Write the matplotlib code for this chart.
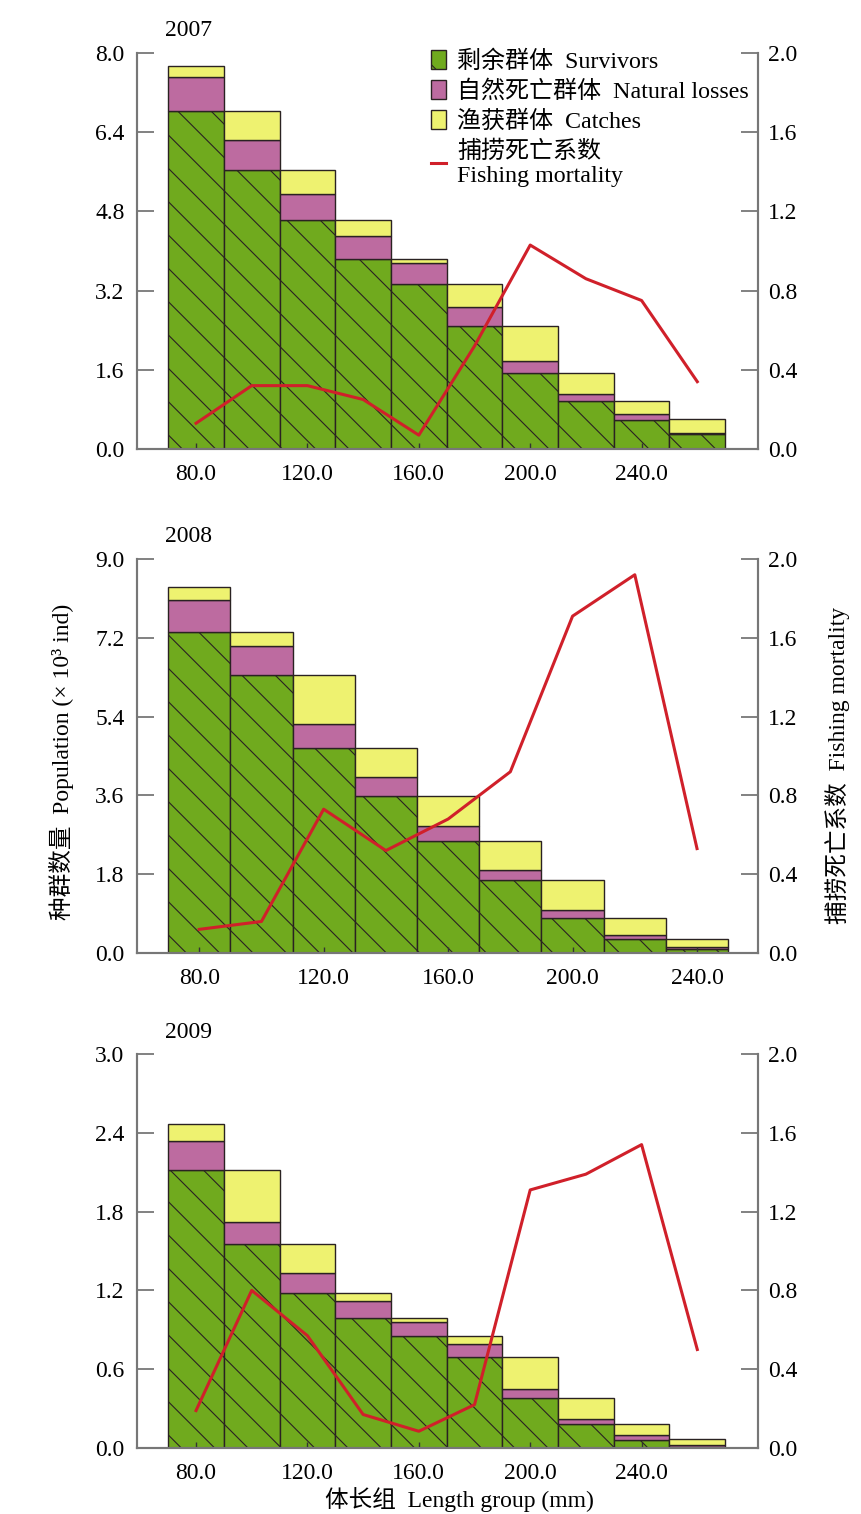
import numpy as np
import matplotlib
matplotlib.use('Agg')
import matplotlib.pyplot as plt
from matplotlib.font_manager import FontProperties

plt.rcParams['font.family'] = ['Liberation Serif', 'Noto Sans CJK SC']
plt.rcParams['hatch.linewidth'] = 0.8
plt.rcParams['hatch.color'] = '#1a1a1a'

# ---- data ----
years = ['2007', '2008', '2009']

len_2007 = [80, 100, 120, 140, 160, 180, 200, 220, 240, 260]
surv_2007 = [6.82, 5.64, 4.62, 3.83, 3.33, 2.49, 1.54, 0.97, 0.59, 0.30]
nat_2007 = [0.69, 0.61, 0.53, 0.48, 0.42, 0.38, 0.23, 0.15, 0.12, 0.02]
catch_2007 = [0.23, 0.57, 0.49, 0.31, 0.08, 0.46, 0.72, 0.42, 0.26, 0.28]
F_2007 = [0.13, 0.32, 0.32, 0.25, 0.07, 0.52, 1.03, 0.86, 0.75, 0.34]

len_2008 = [80, 100, 120, 140, 160, 180, 200, 220, 240]
surv_2008 = [7.33, 6.34, 4.68, 3.58, 2.56, 1.66, 0.80, 0.31, 0.10]
nat_2008 = [0.74, 0.68, 0.54, 0.44, 0.35, 0.24, 0.19, 0.09, 0.03]
catch_2008 = [0.29, 0.31, 1.12, 0.66, 0.67, 0.66, 0.67, 0.40, 0.20]
F_2008 = [0.12, 0.16, 0.73, 0.52, 0.68, 0.92, 1.71, 1.92, 0.53]

len_2009 = [80, 100, 120, 140, 160, 180, 200, 220, 240, 260]
surv_2009 = [2.12, 1.55, 1.18, 0.99, 0.85, 0.69, 0.38, 0.18, 0.06, 0.01]
nat_2009 = [0.22, 0.17, 0.15, 0.13, 0.11, 0.10, 0.07, 0.04, 0.04, 0.01]
catch_2009 = [0.13, 0.40, 0.22, 0.06, 0.03, 0.06, 0.24, 0.16, 0.08, 0.05]
F_2009 = [0.19, 0.80, 0.57, 0.17, 0.085, 0.22, 1.31, 1.39, 1.54, 0.50]

yticks_left = [np.arange(0, 8.01, 1.6), np.arange(0, 9.01, 1.8), np.arange(0, 3.01, 0.6)]
yticks_right = np.arange(0, 2.01, 0.4)
xticks = [80, 120, 160, 200, 240]

labels = ['剩余群体  Survivors', '自然死亡群体  Natural losses',
          '渔获群体  Catches', '捕捞死亡系数\nFishing mortality']

# ---- style ----
green = '#70aa1e'
pink = '#bd6ba0'
yellow = '#eef270'
red = '#d0202a'
edge = '#2a2222'
spine_c = '#777777'
fs = 17

W, H = 861, 1514
fig = plt.figure(figsize=(W / 100, H / 100), dpi=100)

# axes boxes in pixels: (top, bottom)
boxes = [(53, 449), (559, 953), (1054, 1448)]
left_px, right_px = 137, 758
xlims = [(58.8, 281.8), (60, 259.6), (58.8, 281.8)]

datasets = [
    (len_2007, surv_2007, nat_2007, catch_2007, F_2007),
    (len_2008, surv_2008, nat_2008, catch_2008, F_2008),
    (len_2009, surv_2009, nat_2009, catch_2009, F_2009),
]

for k, (top, bot) in enumerate(boxes):
    ax = fig.add_axes([left_px / W, 1 - bot / H, (right_px - left_px) / W, (bot - top) / H])
    x, surv, nat, catch, F = datasets[k]
    x = np.array(x)
    surv = np.array(surv)
    nat = np.array(nat)
    catch = np.array(catch)

    b1 = ax.bar(x, surv, width=20, color=green, edgecolor=edge, linewidth=1.0, hatch='\\')
    b2 = ax.bar(x, nat, width=20, bottom=surv, color=pink, edgecolor=edge, linewidth=1.0)
    b3 = ax.bar(x, catch, width=20, bottom=surv + nat, color=yellow, edgecolor=edge, linewidth=1.0)

    ax.set_xlim(*xlims[k])
    ax.set_ylim(0, yticks_left[k][-1])
    ax.set_yticks(yticks_left[k])
    ax.set_yticklabels(['%.1f' % v for v in yticks_left[k]])
    ax.set_xticks(xticks)
    ax.set_xticklabels(['%.1f' % v for v in xticks])
    ax.tick_params(axis='y', direction='in', length=12, width=1.3, color=spine_c,
                   pad=9, labelsize=fs)
    ax.tick_params(axis='x', direction='in', length=4, width=1.0, color='#333333',
                   pad=11, labelsize=fs)

    ax2 = ax.twinx()
    ln, = ax2.plot(x, F, color=red, linewidth=2.2)
    ax2.set_ylim(0, 2.0)
    ax2.set_yticks(yticks_right)
    ax2.set_yticklabels(['%.1f' % v for v in yticks_right])
    ax2.tick_params(axis='y', direction='in', length=12, width=1.3, color=spine_c,
                    pad=7, labelsize=fs)

    for a in (ax, ax2):
        a.spines['top'].set_visible(False)
        for s in ('left', 'right', 'bottom'):
            a.spines[s].set_color(spine_c)
            a.spines[s].set_linewidth(1.5)

    fig.text(165 / W, 1 - (top - 22) / H, years[k], fontsize=fs, ha='left', va='center')

    if k == 0:
        leg = ax2.legend([b1[0], b2[0], b3[0], ln], labels, loc='upper left',
                         bbox_to_anchor=(0.473, 1.008), frameon=False,
                         prop=FontProperties(family=['Liberation Serif', 'Noto Sans CJK SC'], size=17.3),
                         borderpad=0, borderaxespad=0, handlelength=0.65, handleheight=0.85,
                         handletextpad=0.45, labelspacing=0.3)

fig.text(62 / W, 1 - 762 / H, '种群数量  Population (× 10³ ind)', rotation=90,
         fontsize=fs, ha='center', va='center')
fig.text(838 / W, 1 - 765 / H, '捕捞死亡系数  Fishing mortality', rotation=90,
         fontsize=fs, ha='center', va='center')
fig.text(459 / W, 1 - 1500 / H, '体长组  Length group (mm)', fontsize=fs,
         ha='center', va='center')

fig.savefig('out.png', dpi=100)
